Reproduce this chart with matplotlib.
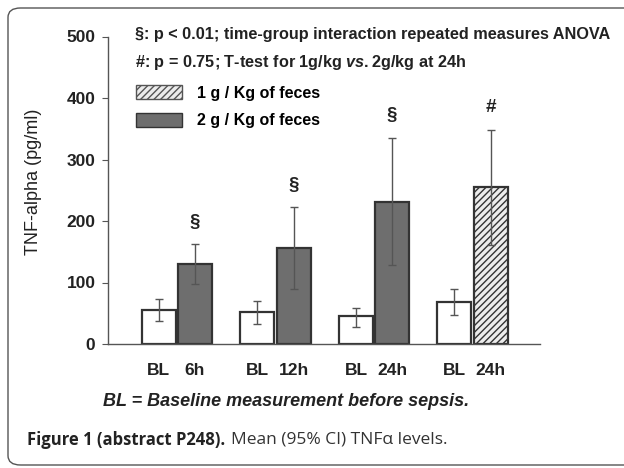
import matplotlib

matplotlib.use("Agg")
import matplotlib.pyplot as plt  # noqa: E402
import numpy as np  # noqa: E402
from matplotlib.patches import FancyBboxPatch, Patch  # noqa: E402

# values (pg/ml, mean and 95% CI)
tick_labels = ["BL", "6h", "BL", "12h", "BL", "24h", "BL", "24h"]
baseline_mean = [55, 52, 45, 68]
baseline_lo = [38, 33, 28, 47]
baseline_hi = [73, 70, 59, 89]
post_mean = [130, 156, 231, 255]
post_lo = [97, 89, 129, 161]
post_hi = [162, 222, 335, 348]
post_dose = ["2g", "2g", "2g", "1g"]
post_marks = ["§", "§", "§", "#"]
y_ticks = [0, 100, 200, 300, 400, 500]

FONT = ["Liberation Sans", "DejaVu Sans"]
CAPTION_FONT = ["Open Sans", "DejaVu Sans"]
plt.rcParams["font.family"] = FONT
plt.rcParams["hatch.color"] = "#777777"
plt.rcParams["mathtext.fontset"] = "custom"
plt.rcParams["mathtext.it"] = "Liberation Sans:italic:bold"
plt.rcParams["mathtext.rm"] = "Liberation Sans:bold"

W, H = 624, 468
fig = plt.figure(figsize=(W / 100, H / 100), dpi=100)


def fx(px):
    return px / W


def fy(py):
    return 1 - py / H


# outer rounded frame (right side runs off the page)
frame = FancyBboxPatch((fx(8), fy(465)), fx(700), fy(8) - fy(465),
                       boxstyle="round,pad=0,rounding_size=0.02",
                       transform=fig.transFigure, facecolor="none",
                       edgecolor="#555555", linewidth=1.0, zorder=-5)
fig.add_artist(frame)

AX_L, AX_R, AX_B, AX_T = 108, 540, 344, 36.5
ax = fig.add_axes([fx(AX_L), fy(AX_B), fx(AX_R) - fx(AX_L), fy(AX_T) - fy(AX_B)])
ax.set_facecolor("none")

groups = np.arange(len(baseline_mean))
off, width = 0.183, 0.345
base_x = groups - off
post_x = groups + off

base_err = [np.array(baseline_mean) - np.array(baseline_lo),
            np.array(baseline_hi) - np.array(baseline_mean)]
post_err = [np.array(post_mean) - np.array(post_lo),
            np.array(post_hi) - np.array(post_mean)]

ax.bar(base_x, baseline_mean, width, color="white", edgecolor="#333333",
       linewidth=1.6, zorder=2)
for x, m, dose in zip(post_x, post_mean, post_dose):
    if dose == "1g":
        ax.bar(x, m, width, color="#ececec", edgecolor="#333333",
               linewidth=1.6, hatch="/////", zorder=2)
    else:
        ax.bar(x, m, width, color="#6e6e6e", edgecolor="#333333",
               linewidth=1.6, zorder=2)

ax.errorbar(base_x, baseline_mean, yerr=base_err, fmt="none", ecolor="#555555",
            elinewidth=1.0, capsize=2.6, capthick=1.0, zorder=3)
ax.errorbar(post_x, post_mean, yerr=post_err, fmt="none", ecolor="#555555",
            elinewidth=1.0, capsize=2.6, capthick=1.0, zorder=3)

for x, hi, mk in zip(post_x, post_hi, post_marks):
    ax.text(x, hi + 36, mk, ha="center", va="center", fontsize=13.5,
            fontweight="bold", color="#222222")

ax.set_xlim(-0.70, 3.685)
ax.set_ylim(0, 500)
ax.set_yticks(y_ticks)
ax.tick_params(axis="y", length=4, width=0.8, colors="#555555", labelcolor="#222222",
               labelsize=12.5, pad=5)
for lab in ax.get_yticklabels():
    lab.set_fontweight("bold")
all_x = np.ravel(np.column_stack([base_x, post_x]))
ax.set_xticks(all_x)
ax.set_xticklabels(tick_labels, fontsize=12.5, fontweight="bold", color="#222222")
ax.tick_params(axis="x", length=0, pad=14)
for s in ["top", "right"]:
    ax.spines[s].set_visible(False)
for s in ["left", "bottom"]:
    ax.spines[s].set_color("#555555")
    ax.spines[s].set_linewidth(1.0)
ax.set_ylabel("TNF-alpha (pg/ml)", fontsize=13, color="#222222")
ax.yaxis.set_label_coords((42 - AX_L) / (AX_R - AX_L), (AX_B - 182) / (AX_B - AX_T))

# legend
handles = [Patch(facecolor="#ececec", edgecolor="#555555", hatch="/////"),
           Patch(facecolor="#6e6e6e", edgecolor="#333333")]
ax.legend(handles, ["1 g / Kg of feces", "2 g / Kg of feces"],
          loc="upper left",
          bbox_to_anchor=((136 - AX_L) / (AX_R - AX_L), (AX_B - 85) / (AX_B - AX_T)),
          bbox_transform=ax.transAxes, frameon=False, borderpad=0, borderaxespad=0,
          handlelength=2.88, handleheight=1.0, handletextpad=0.94, labelspacing=0.75,
          prop={"family": FONT, "weight": "bold", "size": 11.5})

fig.text(fx(135), fy(35), "§: p < 0.01; time-group interaction repeated measures ANOVA",
         fontsize=11.7, fontweight="bold", color="#222222", va="center")
fig.text(fx(135), fy(63), "#: p = 0.75; T-test for 1g/kg $\\it{vs.}$2g/kg at 24h",
         fontsize=11.7, fontweight="bold", color="#222222", va="center")
fig.text(fx(103), fy(402), "BL = Baseline measurement before sepsis.", fontsize=13,
         fontweight="bold", fontstyle="italic", color="#222222", va="center")

# caption: bold lead-in, then the plain sentence right after it
lead = fig.text(fx(27), fy(440), "Figure 1 (abstract P248).", fontsize=12, fontweight="bold",
                family=CAPTION_FONT, color="#222222", va="center")
renderer = fig.canvas.get_renderer()
lead_end = lead.get_window_extent(renderer).x1
fig.text(fx(lead_end + 6), fy(440), "Mean (95% CI) TNFα levels.", fontsize=12.5,
         family=CAPTION_FONT, color="#333333", va="center")

fig.savefig("out.png", dpi=100)
